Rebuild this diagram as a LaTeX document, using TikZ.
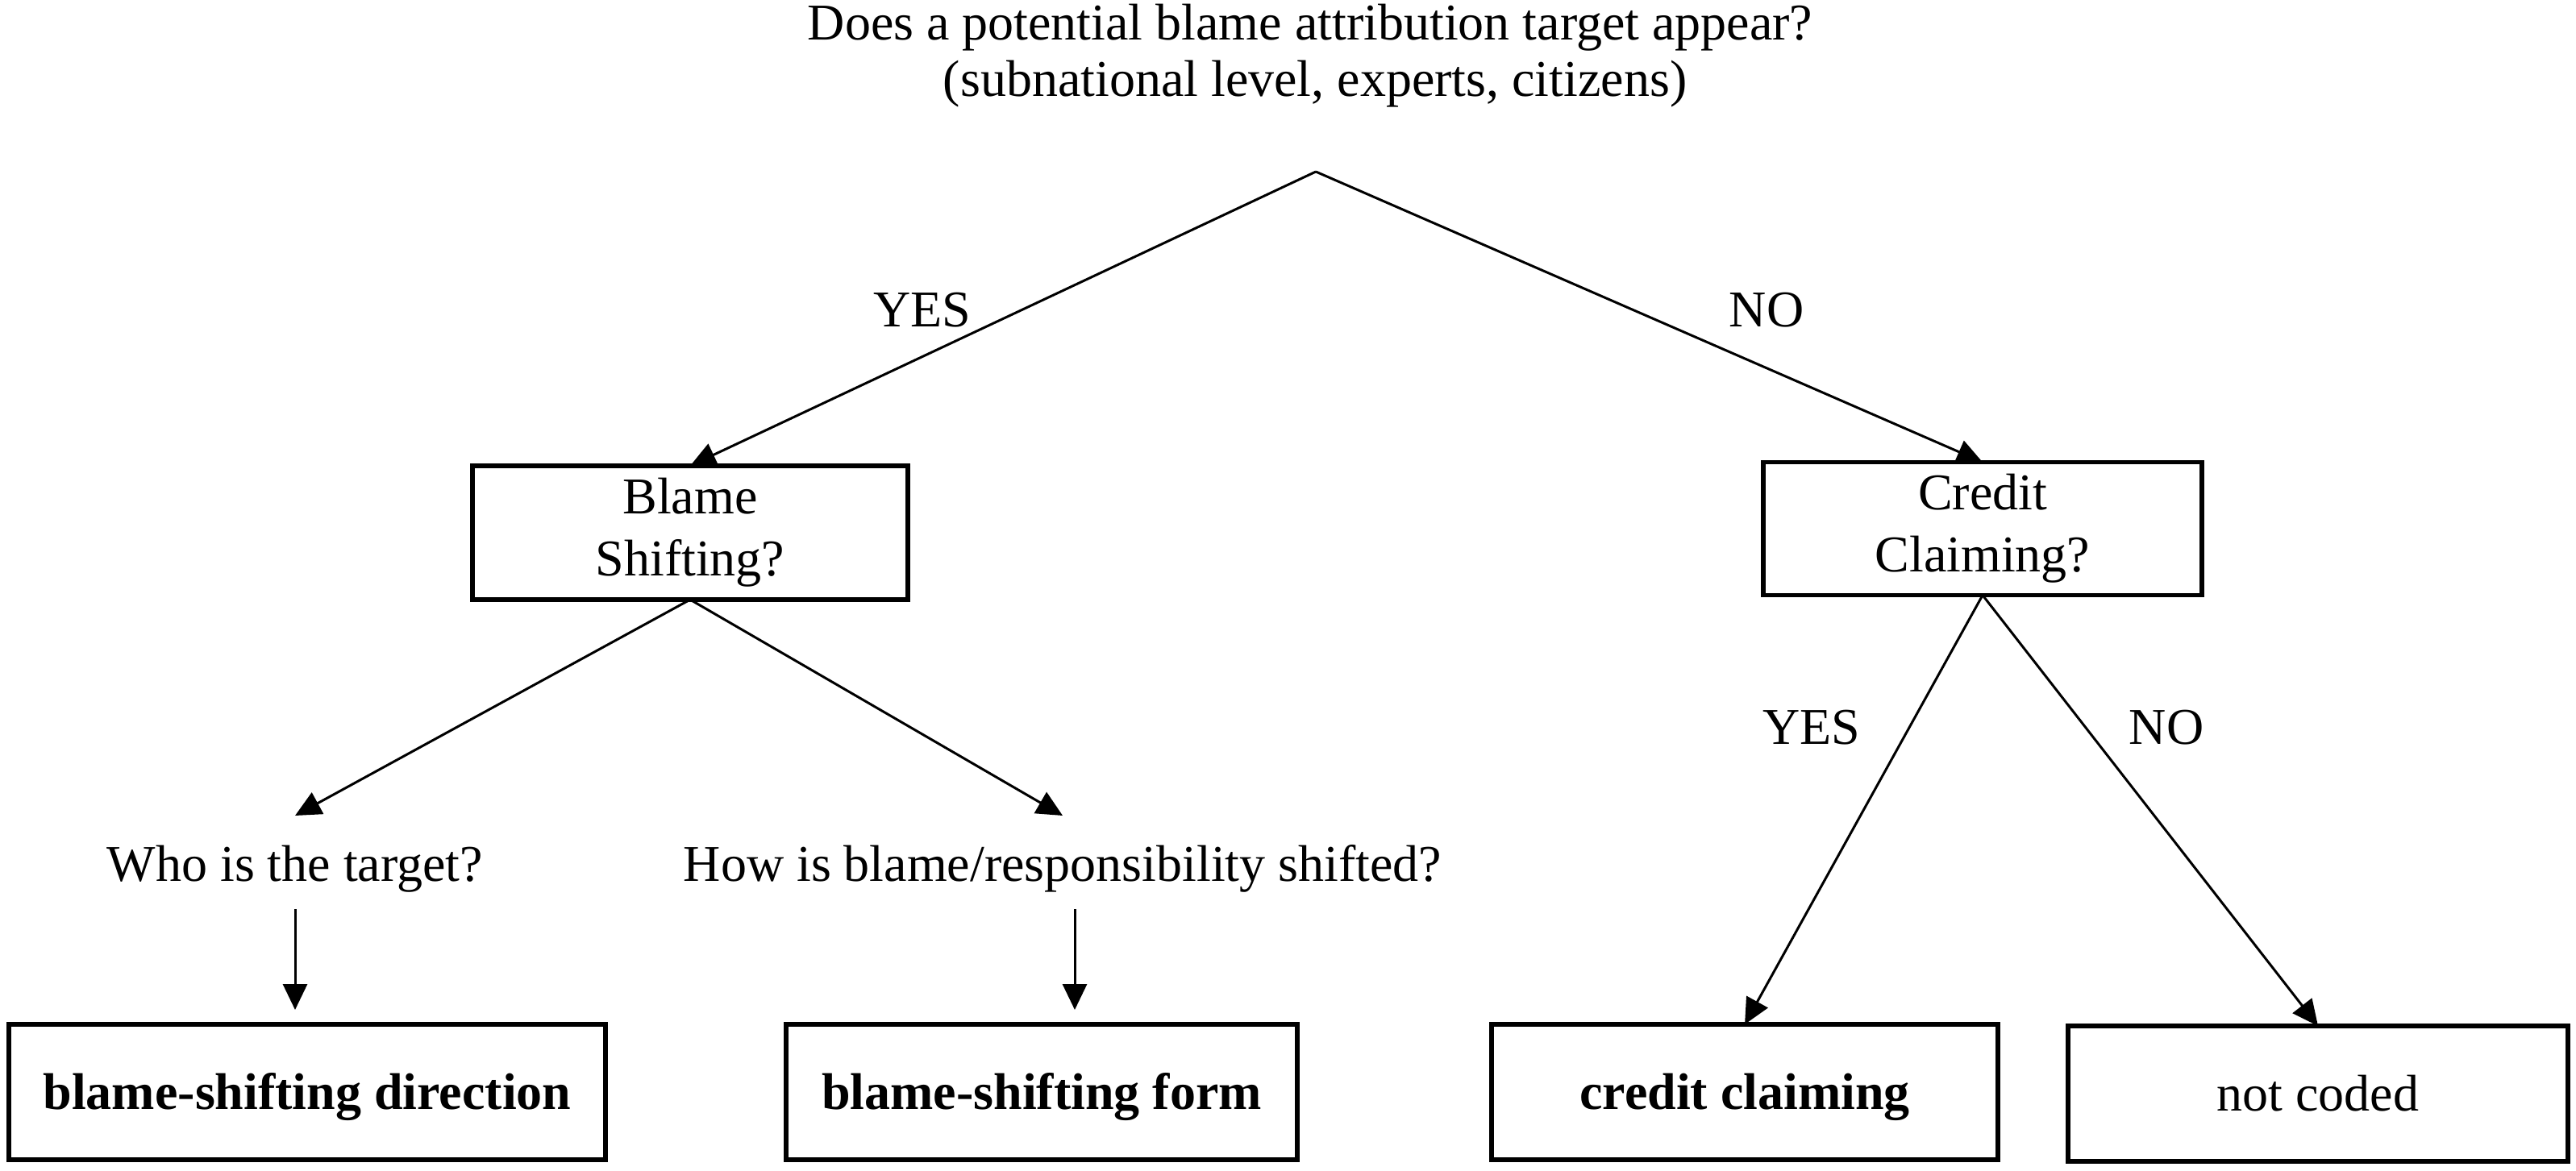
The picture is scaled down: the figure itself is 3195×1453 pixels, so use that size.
\documentclass[tikz,border=0pt]{standalone}
\usepackage{fontspec}
\setmainfont{Liberation Serif}
\usetikzlibrary{arrows.meta}
\begin{document}
\begin{tikzpicture}[x=1pt,y=-1pt,
  every node/.style={inner sep=0pt, outer sep=0pt},
  lbl/.style={font=\fontsize{64}{76}\selectfont, anchor=base},
  qlbl/.style={font=\fontsize{64}{76}\selectfont, anchor=base, text height=81pt, text depth=35pt},
  qbox/.style={draw, line width=5.5pt, align=center, font=\fontsize{64}{77}\selectfont},
  rbox/.style={draw, line width=5.5pt, minimum height=168pt, font=\fontsize{64}{76}\selectfont, text height=43pt, text depth=0pt},
  conn/.style={line width=3pt, -{Triangle[length=32pt,width=30pt]}}]
\useasboundingbox (0,0) rectangle (3195,1453);

% top question
\node[lbl] (q1) at (1625,50) {Does a potential blame attribution target appear?};
\node[lbl] (q2) at (1631,120) {(subnational level, experts, citizens)};
\coordinate (apex) at (1632,213);

% second level
\node[qbox, minimum width=540pt, minimum height=166pt] (blame) at (856,661) {Blame\\Shifting?};
\node[qbox, minimum width=544pt, minimum height=165pt] (credit) at (2459,656) {Credit\\Claiming?};

\draw[conn] (apex) -- (blame.north);
\draw[conn] (apex) -- (credit.north);
\node[lbl] (yes1) at (1144,405) {YES};
\node[lbl] (no1) at (2191,405) {NO};

% third level (left)
\node[qlbl] (who) at (366,1093) {Who is the target?};
\node[qlbl] (how) at (1318,1093) {How is blame/responsibility shifted?};

\draw[conn] (blame.south) -- (who.north);
\draw[conn] (blame.south) -- (how.north);

% bottom boxes
\node[rbox, minimum width=740pt, font=\fontsize{64}{76}\selectfont\bfseries] (dir) at (381,1355) {blame-shifting direction};
\node[rbox, minimum width=634pt, font=\fontsize{64}{76}\selectfont\bfseries] (form) at (1292,1355) {blame-shifting form};
\node[rbox, minimum width=628pt, font=\fontsize{64}{76}\selectfont\bfseries] (cc) at (2164,1355) {credit claiming};
\node[rbox, minimum width=620pt] (nc) at (2875,1357) {not coded};

\draw[conn, shorten >=18pt] (who.south) -- (who.south |- dir.north);
\draw[conn, shorten >=18pt] ([xshift=15pt]how.south) -- ([xshift=15pt]how.south |- form.north);

\draw[conn] (credit.south) -- (cc.north);
\draw[conn] (credit.south) -- (nc.north);
\node[lbl] (yes2) at (2247,923) {YES};
\node[lbl] (no2) at (2687,923) {NO};
\end{tikzpicture}
\end{document}
